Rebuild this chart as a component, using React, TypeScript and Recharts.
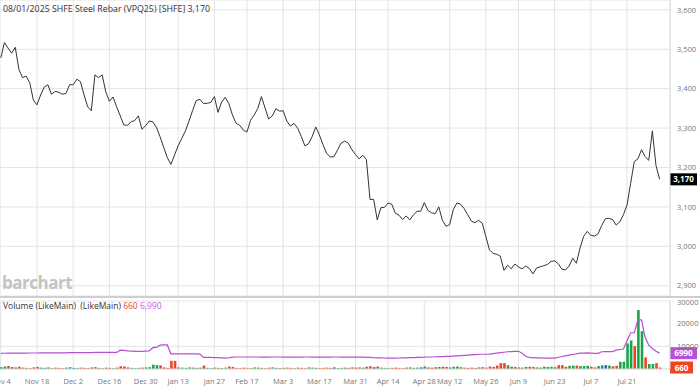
import React from 'react';
import {
  LineChart, Line, ComposedChart, Bar, Cell, XAxis, YAxis, CartesianGrid, ReferenceLine,
} from 'recharts';

// trading days from Nov 4 2024 to Aug 1 2025, index 0..182
const price = [
  3478, 3517, 3503, 3490, 3505, 3449, 3428, 3432, 3415, 3371,
  3359, 3384, 3404, 3410, 3386, 3393, 3391, 3386, 3388, 3410,
  3410, 3424, 3418, 3384, 3354, 3344, 3435, 3428, 3435, 3392,
  3368, 3379, 3354, 3331, 3308, 3307, 3316, 3319, 3331, 3297,
  3306, 3318, 3316, 3302, 3278, 3251, 3225, 3208, 3232, 3255,
  3274, 3293, 3318, 3345, 3370, 3373, 3362, 3363, 3365, 3380,
  3340, 3366, 3378, 3362, 3333, 3312, 3307, 3295, 3290, 3320,
  3333, 3350, 3380, 3351, 3323, 3331, 3349, 3343, 3344, 3318,
  3305, 3312, 3300, 3279, 3255, 3260, 3278, 3303, 3283, 3258,
  3236, 3227, 3227, 3244, 3262, 3267, 3262, 3245, 3233, 3222,
  3231, 3220, 3119, 3119, 3067, 3098, 3099, 3110, 3107, 3084,
  3079, 3068, 3077, 3067, 3080, 3089, 3089, 3111, 3091, 3085,
  3083, 3100, 3066, 3051, 3055, 3093, 3110, 3107, 3096, 3080,
  3064, 3060, 3066, 3059, 3025, 2991, 2982, 2980, 2975, 2939,
  2952, 2943, 2955, 2948, 2943, 2950, 2944, 2930, 2945, 2948,
  2951, 2954, 2962, 2963, 2956, 2942, 2940, 2950, 2970, 2957,
  2995, 3025, 3038, 3028, 3026, 3032, 3053, 3070, 3071, 3068,
  3054, 3062, 3080, 3105, 3160, 3215, 3222, 3245, 3228, 3218,
  3293, 3205, 3170,
];

const volume = [
  800, 1100, 1300, 900, 700, 1000, 600, 500, 400, 700,
  900, 600, 500, 700, 400, 600, 500, 400, 600, 800,
  500, 400, 600, 500, 400, 700, 800, 500, 400, 600,
  500, 400, 600, 1200, 1100, 700, 500, 400, 500, 600,
  700, 800, 1900, 1700, 1600, 700, 500, 3600, 3600, 700,
  600, 500, 700, 600, 500, 600, 1500, 500, 400, 600,
  500, 400, 600, 1100, 900, 500, 400, 600, 500, 400,
  700, 600, 500, 400, 600, 700, 500, 400, 500, 600,
  500, 400, 600, 500, 400, 700, 600, 500, 400, 500,
  600, 500, 700, 400, 500, 600, 500, 700, 600, 700,
  600, 1000, 1200, 800, 1100, 600, 500, 400, 500, 600,
  500, 400, 600, 700, 500, 600, 700, 1100, 700, 600,
  800, 900, 1000, 900, 700, 1000, 1100, 800, 600, 500,
  600, 500, 700, 800, 600, 1100, 900, 1500, 2600, 2600,
  1700, 1000, 900, 700, 600, 900, 1000, 900, 700, 600,
  1000, 900, 1000, 800, 1700, 1700, 1000, 1400, 1500, 1500,
  1300, 1300, 1400, 1000, 700, 1300, 1600, 1700, 1500, 1200,
  1400, 3200, 3200, 11300, 12600, 10100, 26000, 16700, 5100, 2200,
  2200, 2600, 660,
];

// g = up, r = down, b = unchanged
const volDir = (
  'ggrrgrrgrr' + 'rgggrgrrgg' + 'bgrrrrgrgr' + 'rgrrrrgggr' + 'ggggrrrrrg' +
  'ggggggrggg' + 'rggrrrrrrg' + 'gggrrggrgr' + 'rgrrrgggrr' + 'rrbgggrrrr' +
  'grrbrgggrr' + 'rrgrggbgrr' + 'rgrrgggrrr' + 'rrgrrrrrrr' + 'grgrrgrrgg' +
  'ggggrrrggr' + 'gggrrggbgr' + 'rggggrggrg' + 'grr'
).split('');

const volAvg = [
  6900, 6950, 7000, 7000, 7000, 7050, 7000, 7000, 7050, 7050,
  7050, 7100, 7100, 7100, 7100, 7150, 7150, 7150, 7150, 7200,
  7200, 7200, 7200, 7250, 7250, 7250, 7300, 7300, 7300, 7300,
  7300, 7300, 7300, 8300, 8200, 8000, 7900, 7800, 7800, 7800,
  7900, 8000, 9400, 9500, 10500, 10600, 10600, 6700, 6700, 6700,
  6700, 6700, 6700, 6700, 6700, 6600, 5100, 5100, 5100, 5000,
  5000, 4900, 4800, 4900, 5200, 5300, 5300, 5300, 5300, 5300,
  5300, 5300, 5250, 5250, 5250, 5300, 5300, 5300, 5250, 5250,
  5200, 5200, 5250, 5250, 5300, 5300, 5250, 5200, 5200, 5200,
  5250, 5250, 5300, 5300, 5250, 5250, 5200, 5200, 5200, 5200,
  5200, 5150, 5100, 5000, 4950, 4900, 4850, 4800, 4800, 4800,
  4850, 4900, 4950, 5000, 5050, 5100, 5150, 5200, 5300, 5300,
  5400, 5450, 5500, 5550, 5600, 5700, 5800, 5900, 6000, 6100,
  6200, 6300, 6400, 6500, 6500, 6600, 6800, 7000, 7200, 7400,
  7600, 7700, 7800, 7800, 7000, 5600, 5100, 5000, 4900, 4900,
  4800, 4800, 4800, 4800, 5200, 5500, 5800, 6100, 6400, 6700,
  7000, 7000, 7100, 7000, 6900, 6900, 7600, 7700, 7700, 7700,
  8300, 8600, 8800, 12500, 16000, 16000, 21700, 21700, 14000, 10500,
  9000, 7800, 6990,
];

const tickIdx = [0, 10, 20, 30, 40, 49, 59, 68, 78, 88, 98, 107, 117, 124, 134, 143, 153, 163, 173];
const tickLabels = [
  'Nov 4', 'Nov 18', 'Dec 2', 'Dec 16', 'Dec 30', 'Jan 13', 'Jan 27', 'Feb 17', 'Mar 3',
  'Mar 17', 'Mar 31', 'Apr 14', 'Apr 28', 'May 12', 'May 26', 'Jun 9', 'Jun 23', 'Jul 7', 'Jul 21',
];
const priceTicks = [2900, 3000, 3100, 3200, 3300, 3400, 3500, 3600];
const volTicks = [10000, 20000, 30000];

const FONT = '"Open Sans", "Noto Sans", sans-serif';
const GRID = '#e4e4e4';
const AXIS_TEXT = { fontSize: 7.5, fill: '#777', fontFamily: FONT };
const X_DOMAIN = [-0.22, 184.87];
const DIR_COLOR: Record<string, string> = { g: '#1aa64a', r: '#ef4423', b: '#2a5bd7' };

const priceRows = price.map((p, i) => ({ i, p }));
const volRows = volume.map((v, i) => ({ i, v, avg: volAvg[i], d: volDir[i] }));

const fmtDate = (v: number) => {
  const k = tickIdx.indexOf(v);
  return k >= 0 ? tickLabels[k] : '';
};

const Tag = (props: any) => {
  const { viewBox, text, fill, w } = props;
  if (!viewBox) return null;
  const x = viewBox.x + viewBox.width;
  const y = viewBox.y;
  return (
    <g>
      <rect x={x} y={y - 6} width={w} height={12} fill={fill} />
      <text x={x + w / 2} y={y + 3} textAnchor="middle" fill="#fff" fontSize={8} fontWeight="bold" fontFamily={FONT}>
        {text}
      </text>
    </g>
  );
};

const App: React.FC = () => {
  const last = price[price.length - 1];
  const lastVol = volume[volume.length - 1];
  const lastAvg = volAvg[volAvg.length - 1];

  return (
    <div style={{ position: 'absolute', left: 0, top: 0, width: 700, height: 389, background: '#fff', overflow: 'hidden', fontFamily: FONT }}>
      <LineChart width={700} height={296} data={priceRows} margin={{ top: 0, right: 0, bottom: 0, left: 0 }}>
        <CartesianGrid stroke={GRID} />
        <XAxis dataKey="i" type="number" domain={X_DOMAIN} ticks={tickIdx} hide />
        <YAxis
          orientation="right"
          width={30}
          domain={[2874, 3625]}
          ticks={priceTicks}
          allowDataOverflow
          tick={AXIS_TEXT}
          tickFormatter={(v: number) => v.toLocaleString('en-US')}
          tickLine={false}
          tickSize={0}
          tickMargin={7}
          axisLine={{ stroke: '#ddd' }}
        />
        <Line dataKey="p" type="linear" stroke="#333" strokeWidth={1} dot={false} activeDot={false} isAnimationActive={false} />
        <ReferenceLine y={last} stroke="none" label={<Tag text={last.toLocaleString('en-US')} fill="#000" w={27} />} />
      </LineChart>

      <div style={{ position: 'absolute', left: 0, top: 296, width: 700, height: 2, background: '#cfcfcf' }} />

      <div style={{ position: 'absolute', left: 0, top: 298 }}>
        <ComposedChart width={700} height={91} data={volRows} margin={{ top: 3, right: 0, bottom: 0, left: 0 }}>
          <CartesianGrid stroke={GRID} />
          <XAxis
            dataKey="i"
            type="number"
            domain={X_DOMAIN}
            ticks={tickIdx}
            interval={0}
            tickFormatter={fmtDate}
            tick={AXIS_TEXT}
            tickLine={false}
            axisLine={{ stroke: '#ddd' }}
            height={20}
            tickSize={0}
            tickMargin={10}
          />
          <YAxis
            orientation="right"
            width={30}
            domain={[0, 30000]}
            ticks={volTicks}
            tick={AXIS_TEXT}
            tickLine={false}
            tickSize={0}
            tickMargin={7}
            axisLine={{ stroke: '#ddd' }}
          />
          <Bar dataKey="v" barSize={2.6} isAnimationActive={false}>
            {volRows.map((r) => (
              <Cell key={r.i} fill={DIR_COLOR[r.d]} />
            ))}
          </Bar>
          <Line dataKey="avg" type="linear" stroke="#b84fd6" strokeWidth={1.2} dot={false} activeDot={false} isAnimationActive={false} />
          <ReferenceLine y={lastAvg} stroke="none" label={<Tag text={String(lastAvg)} fill="#b84fd6" w={27} />} />
          <ReferenceLine y={lastVol} stroke="none" label={<Tag text={String(lastVol)} fill="#ef4423" w={23} />} />
        </ComposedChart>
      </div>

      <div style={{ position: 'absolute', left: 3, top: 3, fontSize: 8.8, color: '#333', whiteSpace: 'nowrap' }}>
        08/01/2025 SHFE Steel Rebar (VPQ25) [SHFE] 3,170
      </div>
      <div style={{ position: 'absolute', left: 2, top: 271, fontSize: 17, fontWeight: 700, color: '#c4c4c4', letterSpacing: -0.5 }}>
        barchart
      </div>
      <div style={{ position: 'absolute', left: 3, top: 300, fontSize: 8.5, color: '#333', whiteSpace: 'nowrap' }}>
        Volume (LikeMain)&nbsp; (LikeMain) <span style={{ color: '#ef4423' }}>660</span>{' '}
        <span style={{ color: '#c061e0' }}>6,990</span>
      </div>
    </div>
  );
};

export default App;
